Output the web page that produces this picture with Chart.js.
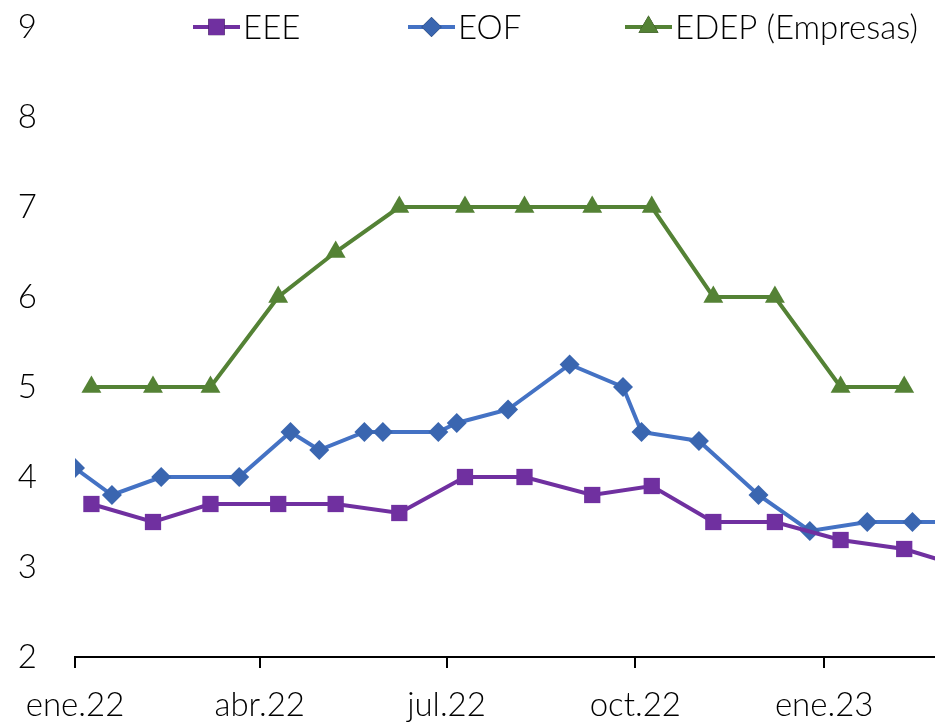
<!DOCTYPE html>
<html>
<head>
<meta charset="utf-8">
<script src="https://cdn.jsdelivr.net/npm/chart.js@4"></script>
<style>
  html, body { margin: 0; padding: 0; background: #fff; overflow: hidden; }
  #wrap { width: 935px; height: 723px; }
</style>
</head>
<body>
<div id="wrap"><canvas id="chart" width="935" height="723"></canvas></div>
<script>
// Series (date of observation, value)
const eeeDates = ['2022-01-09', '2022-02-08', '2022-03-08', '2022-04-10', '2022-05-08', '2022-06-08',
    '2022-07-10', '2022-08-08', '2022-09-10', '2022-10-09', '2022-11-08', '2022-12-08',
    '2023-01-09', '2023-02-09', '2023-03-10'];
const eeeValues = [3.7, 3.5, 3.7, 3.7, 3.7, 3.6, 4.0, 4.0, 3.8, 3.9, 3.5, 3.5, 3.3, 3.2, 3.0];

const eofDates = ['2022-01-01', '2022-01-19', '2022-02-12', '2022-03-22', '2022-04-16', '2022-04-30',
    '2022-05-22', '2022-05-31', '2022-06-27', '2022-07-06', '2022-07-31', '2022-08-30',
    '2022-09-25', '2022-10-04', '2022-11-01', '2022-11-30', '2022-12-25', '2023-01-22',
    '2023-02-13', '2023-03-08'];
const eofValues = [4.1, 3.8, 4.0, 4.0, 4.5, 4.3, 4.5, 4.5, 4.5, 4.6, 4.75, 5.25, 5.0, 4.5, 4.4, 3.8,
    3.4, 3.5, 3.5, 3.5];

const edepDates = ['2022-01-09', '2022-02-08', '2022-03-08', '2022-04-10', '2022-05-08', '2022-06-08',
    '2022-07-10', '2022-08-08', '2022-09-10', '2022-10-09', '2022-11-08', '2022-12-08',
    '2023-01-09', '2023-02-09'];
const edepValues = [5, 5, 5, 6, 6.5, 7, 7, 7, 7, 7, 6, 6, 5, 5];

// Quarter ticks on the date axis
const tickDates = ['2022-01-01', '2022-04-01', '2022-07-01', '2022-10-01', '2023-01-01'];
const tickLabels = ['ene.22', 'abr.22', 'jul.22', 'oct.22', 'ene.23'];
const axisEnd = '2023-02-24';

const seriesNames = ['EEE', 'EOF', 'EDEP (Empresas)'];

const FONT = 'Lato, "Open Sans", sans-serif';
const FONT_SIZE = 33;
const DAY = 86400000;
const origin = Date.UTC(2022, 0, 1);
const toDay = s => {
    const [y, m, d] = s.split('-').map(Number);
    return (Date.UTC(y, m - 1, d) - origin) / DAY;
};
const pts = (dates, values) => dates.map((d, i) => ({ x: toDay(d), y: values[i] }));

const tickDays = tickDates.map(toDay);

// Legend drawn as line + marker, sitting over the top of the plot
const legendPlugin = {
    id: 'lineLegend',
    afterDraw(chart) {
        const ctx = chart.ctx;
        const slots = [193, 408, 625];
        const y = 27;
        ctx.save();
        chart.data.datasets.forEach((ds, i) => {
            const x0 = slots[i];
            const x1 = x0 + 47;
            ctx.strokeStyle = ds.borderColor;
            ctx.lineWidth = 4;
            ctx.beginPath();
            ctx.moveTo(x0, y);
            ctx.lineTo(x1, y);
            ctx.stroke();
            Chart.helpers.drawPoint(ctx, {
                pointStyle: ds.pointStyle,
                radius: ds.pointRadius,
                borderWidth: 0
            }, (x0 + x1) / 2, y);
            ctx.fillStyle = ds.pointBackgroundColor;
            ctx.fill();
            ctx.fillStyle = '#000';
            ctx.font = '300 ' + FONT_SIZE + 'px ' + FONT;
            ctx.textBaseline = 'middle';
            ctx.textAlign = 'left';
            ctx.fillText(seriesNames[i], x1 + 3, y + 1);
        });
        ctx.restore();
    }
};

new Chart(document.getElementById('chart'), {
    type: 'line',
    data: {
        datasets: [{
            label: seriesNames[0],
            data: pts(eeeDates, eeeValues),
            borderColor: '#7030A0',
            backgroundColor: '#7030A0',
            pointBackgroundColor: '#7030A0',
            pointBorderWidth: 0,
            pointStyle: 'rect',
            pointRadius: 11.5,
            borderWidth: 4
        }, {
            label: seriesNames[1],
            data: pts(eofDates, eofValues),
            borderColor: '#4472C4',
            backgroundColor: '#3A66B0',
            pointBackgroundColor: '#3A66B0',
            pointBorderWidth: 0,
            pointStyle: 'rectRot',
            pointRadius: 10,
            borderWidth: 4
        }, {
            label: seriesNames[2],
            data: pts(edepDates, edepValues),
            borderColor: '#548235',
            backgroundColor: '#548235',
            pointBackgroundColor: '#548235',
            pointBorderWidth: 0,
            pointStyle: 'triangle',
            pointRadius: 11.5,
            borderWidth: 4
        }]
    },
    options: {
        responsive: false,
        animation: false,
        events: [],
        layout: { autoPadding: false, padding: { top: 27, right: 0, left: 0, bottom: 0 } },
        plugins: {
            legend: { display: false },
            tooltip: { enabled: false }
        },
        scales: {
            x: {
                type: 'linear',
                min: 0,
                max: toDay(axisEnd),
                afterBuildTicks: scale => {
                    scale.ticks = tickDays.map(v => ({ value: v }));
                },
                afterFit: scale => {
                    scale.height = 66;
                    scale.paddingLeft = 0;
                    scale.paddingRight = 0;
                },
                border: { display: true, color: '#000', width: 2 },
                grid: {
                    display: true,
                    drawOnChartArea: false,
                    drawTicks: true,
                    tickLength: 11,
                    color: '#000',
                    lineWidth: 2
                },
                ticks: {
                    autoSkip: false,
                    maxRotation: 0,
                    padding: 18,
                    color: '#000',
                    font: { family: FONT, size: FONT_SIZE, weight: 300 },
                    callback: v => tickLabels[tickDays.indexOf(v)] ?? ''
                }
            },
            y: {
                min: 2,
                max: 9,
                afterFit: scale => {
                    scale.width = 75;
                    scale.paddingTop = 0;
                    scale.paddingBottom = 0;
                },
                border: { display: false },
                grid: { display: false, drawTicks: false },
                ticks: {
                    stepSize: 1,
                    padding: 38,
                    color: '#000',
                    font: { family: FONT, size: FONT_SIZE, weight: 300 }
                }
            }
        }
    },
    plugins: [legendPlugin]
});
</script>
</body>
</html>
